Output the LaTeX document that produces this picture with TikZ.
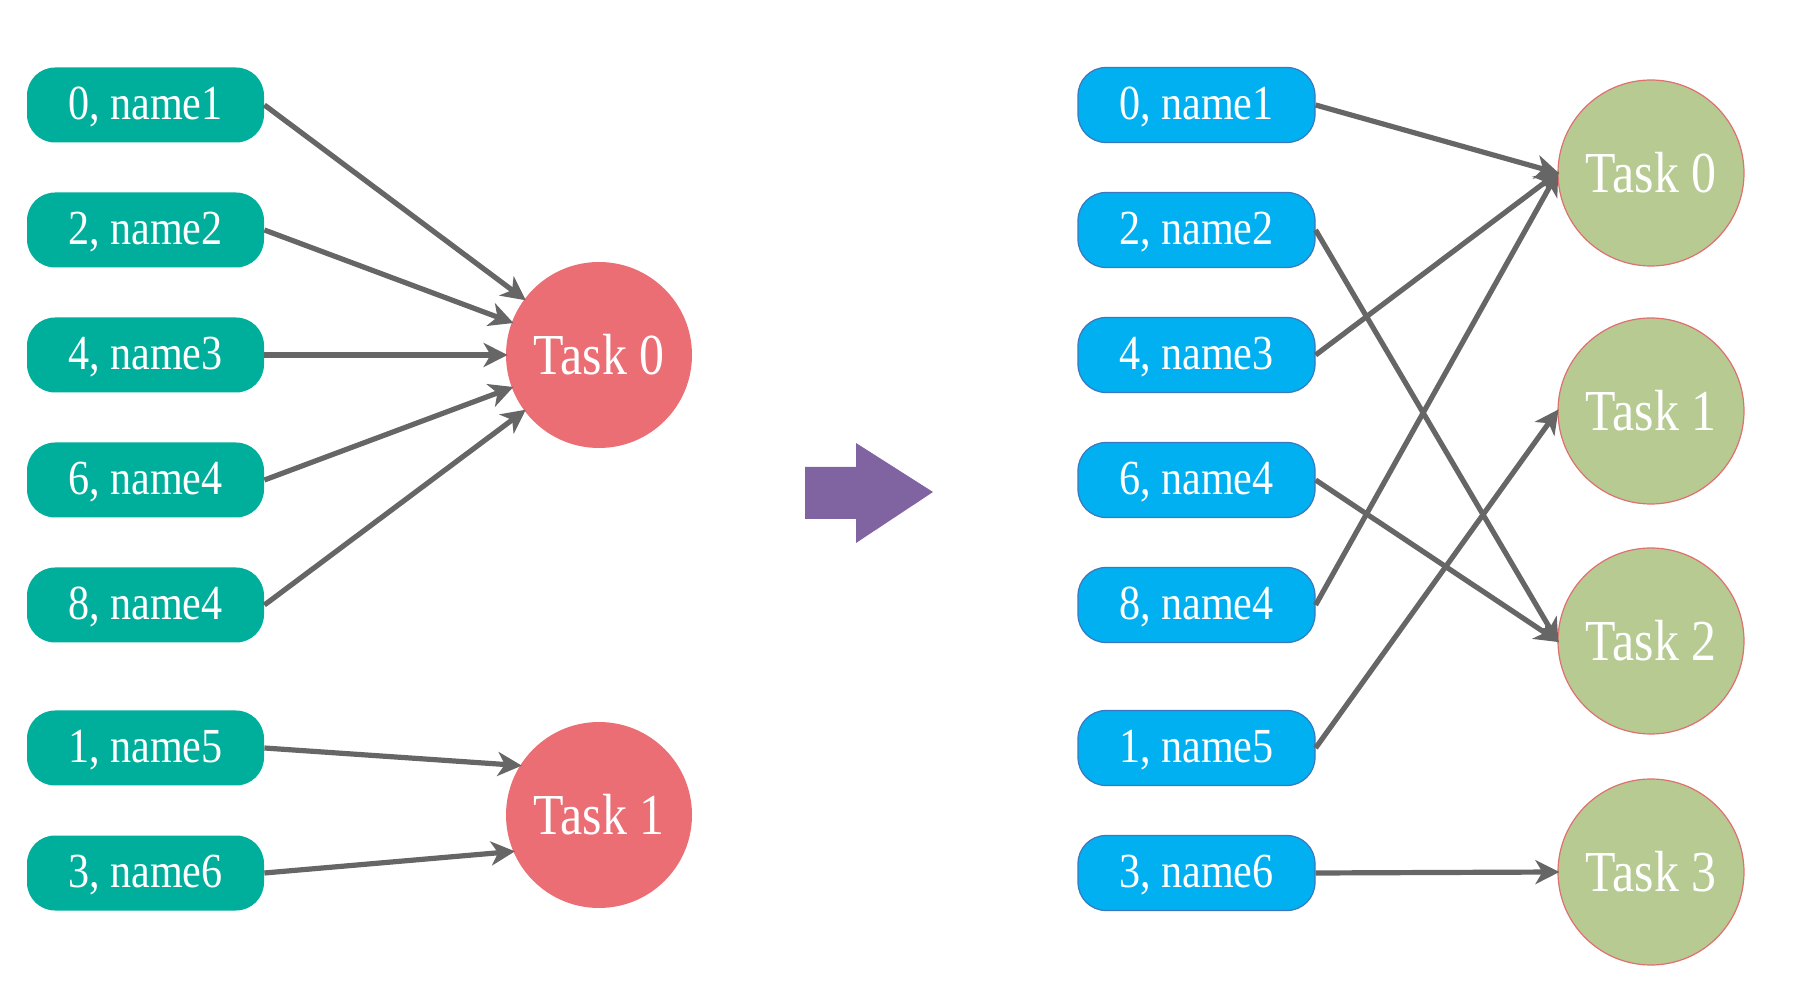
\documentclass[tikz,border=0pt]{standalone}
\usepackage{fontspec}
\setmainfont{Liberation Serif}
\newfontfamily\narrowserif[FakeStretch=0.86]{Liberation Serif}
\usetikzlibrary{arrows.meta}
\definecolor{tealbox}{HTML}{00AE9C}
\definecolor{bluebox}{HTML}{00B0F0}
\definecolor{blueedge}{HTML}{3A78C0}
\definecolor{redtask}{HTML}{EB6E74}
\definecolor{greentask}{HTML}{B6CA92}
\definecolor{greenedge}{HTML}{E07070}
\definecolor{purplearrow}{HTML}{8064A2}
\definecolor{linegray}{HTML}{666666}
\tikzset{
  keybox/.style={rounded corners=14pt, minimum width=118.5pt, minimum height=37.5pt,
    inner sep=0pt, text=white, text height=18.6pt, text depth=4pt,
    font=\narrowserif\fontsize{24.5}{27}\selectfont},
  lbox/.style={keybox, fill=tealbox},
  rbox/.style={keybox, fill=bluebox, draw=blueedge, line width=0.6pt},
  tasknode/.style={circle, minimum size=93pt, inner sep=0pt, text=white,
    font=\narrowserif\fontsize{29}{32}\selectfont},
  redtask/.style={tasknode, fill=redtask},
  greentask/.style={tasknode, fill=greentask, draw=greenedge, line width=0.6pt},
  conn/.style={draw=linegray, line width=2.6pt, -{Stealth[length=12pt,width=12pt,inset=3.5pt]}, shorten >=-1pt}
}
\begin{document}
\begin{tikzpicture}[x=0.5pt,y=-0.5pt]
\useasboundingbox (0,0) rectangle (1796,994);
% left side
\node[lbox] (l0) at (145.5,105) {0, name1};
\node[lbox] (l2) at (145.5,230) {2, name2};
\node[lbox] (l4) at (145.5,355) {4, name3};
\node[lbox] (l6) at (145.5,480) {6, name4};
\node[lbox] (l8) at (145.5,605) {8, name4};
\node[lbox] (l1) at (145.5,748) {1, name5};
\node[lbox] (l3) at (145.5,873) {3, name6};
\node[redtask] (a0) at (599,355) {Task 0};
\node[redtask] (a1) at (599,815) {Task 1};
\draw[conn] (l0.east) -- (a0);
\draw[conn] (l2.east) -- (a0);
\draw[conn] (l4.east) -- (a0);
\draw[conn] (l6.east) -- (a0);
\draw[conn] (l8.east) -- (a0);
\draw[conn] (l1.east) -- (a1.148);
\draw[conn] (l3.east) -- (a1.203);
% purple arrow
\fill[purplearrow] (805,467) -- (856,467) -- (856,443) -- (933,492) -- (856,543) -- (856,519) -- (805,519) -- cycle;
% right side
\node[rbox] (r0) at (1196.5,105) {0, name1};
\node[rbox] (r2) at (1196.5,230) {2, name2};
\node[rbox] (r4) at (1196.5,355) {4, name3};
\node[rbox] (r6) at (1196.5,480) {6, name4};
\node[rbox] (r8) at (1196.5,605) {8, name4};
\node[rbox] (r1) at (1196.5,748) {1, name5};
\node[rbox] (r3) at (1196.5,873) {3, name6};
\node[greentask] (g0) at (1651,173) {Task 0};
\node[greentask] (g1) at (1651,411) {Task 1};
\node[greentask] (g2) at (1651,641) {Task 2};
\node[greentask] (g3) at (1651,872) {Task 3};
\draw[conn] (r0.east) -- (g0.west);
\draw[conn] (r4.east) -- (g0.west);
\draw[conn] (r8.east) -- (g0.west);
\draw[conn] (r2.east) -- (g2.west);
\draw[conn] (r6.east) -- (g2.west);
\draw[conn] (r1.east) -- (g1.west);
\draw[conn] (r3.east) -- (g3.west);
\end{tikzpicture}
\end{document}
